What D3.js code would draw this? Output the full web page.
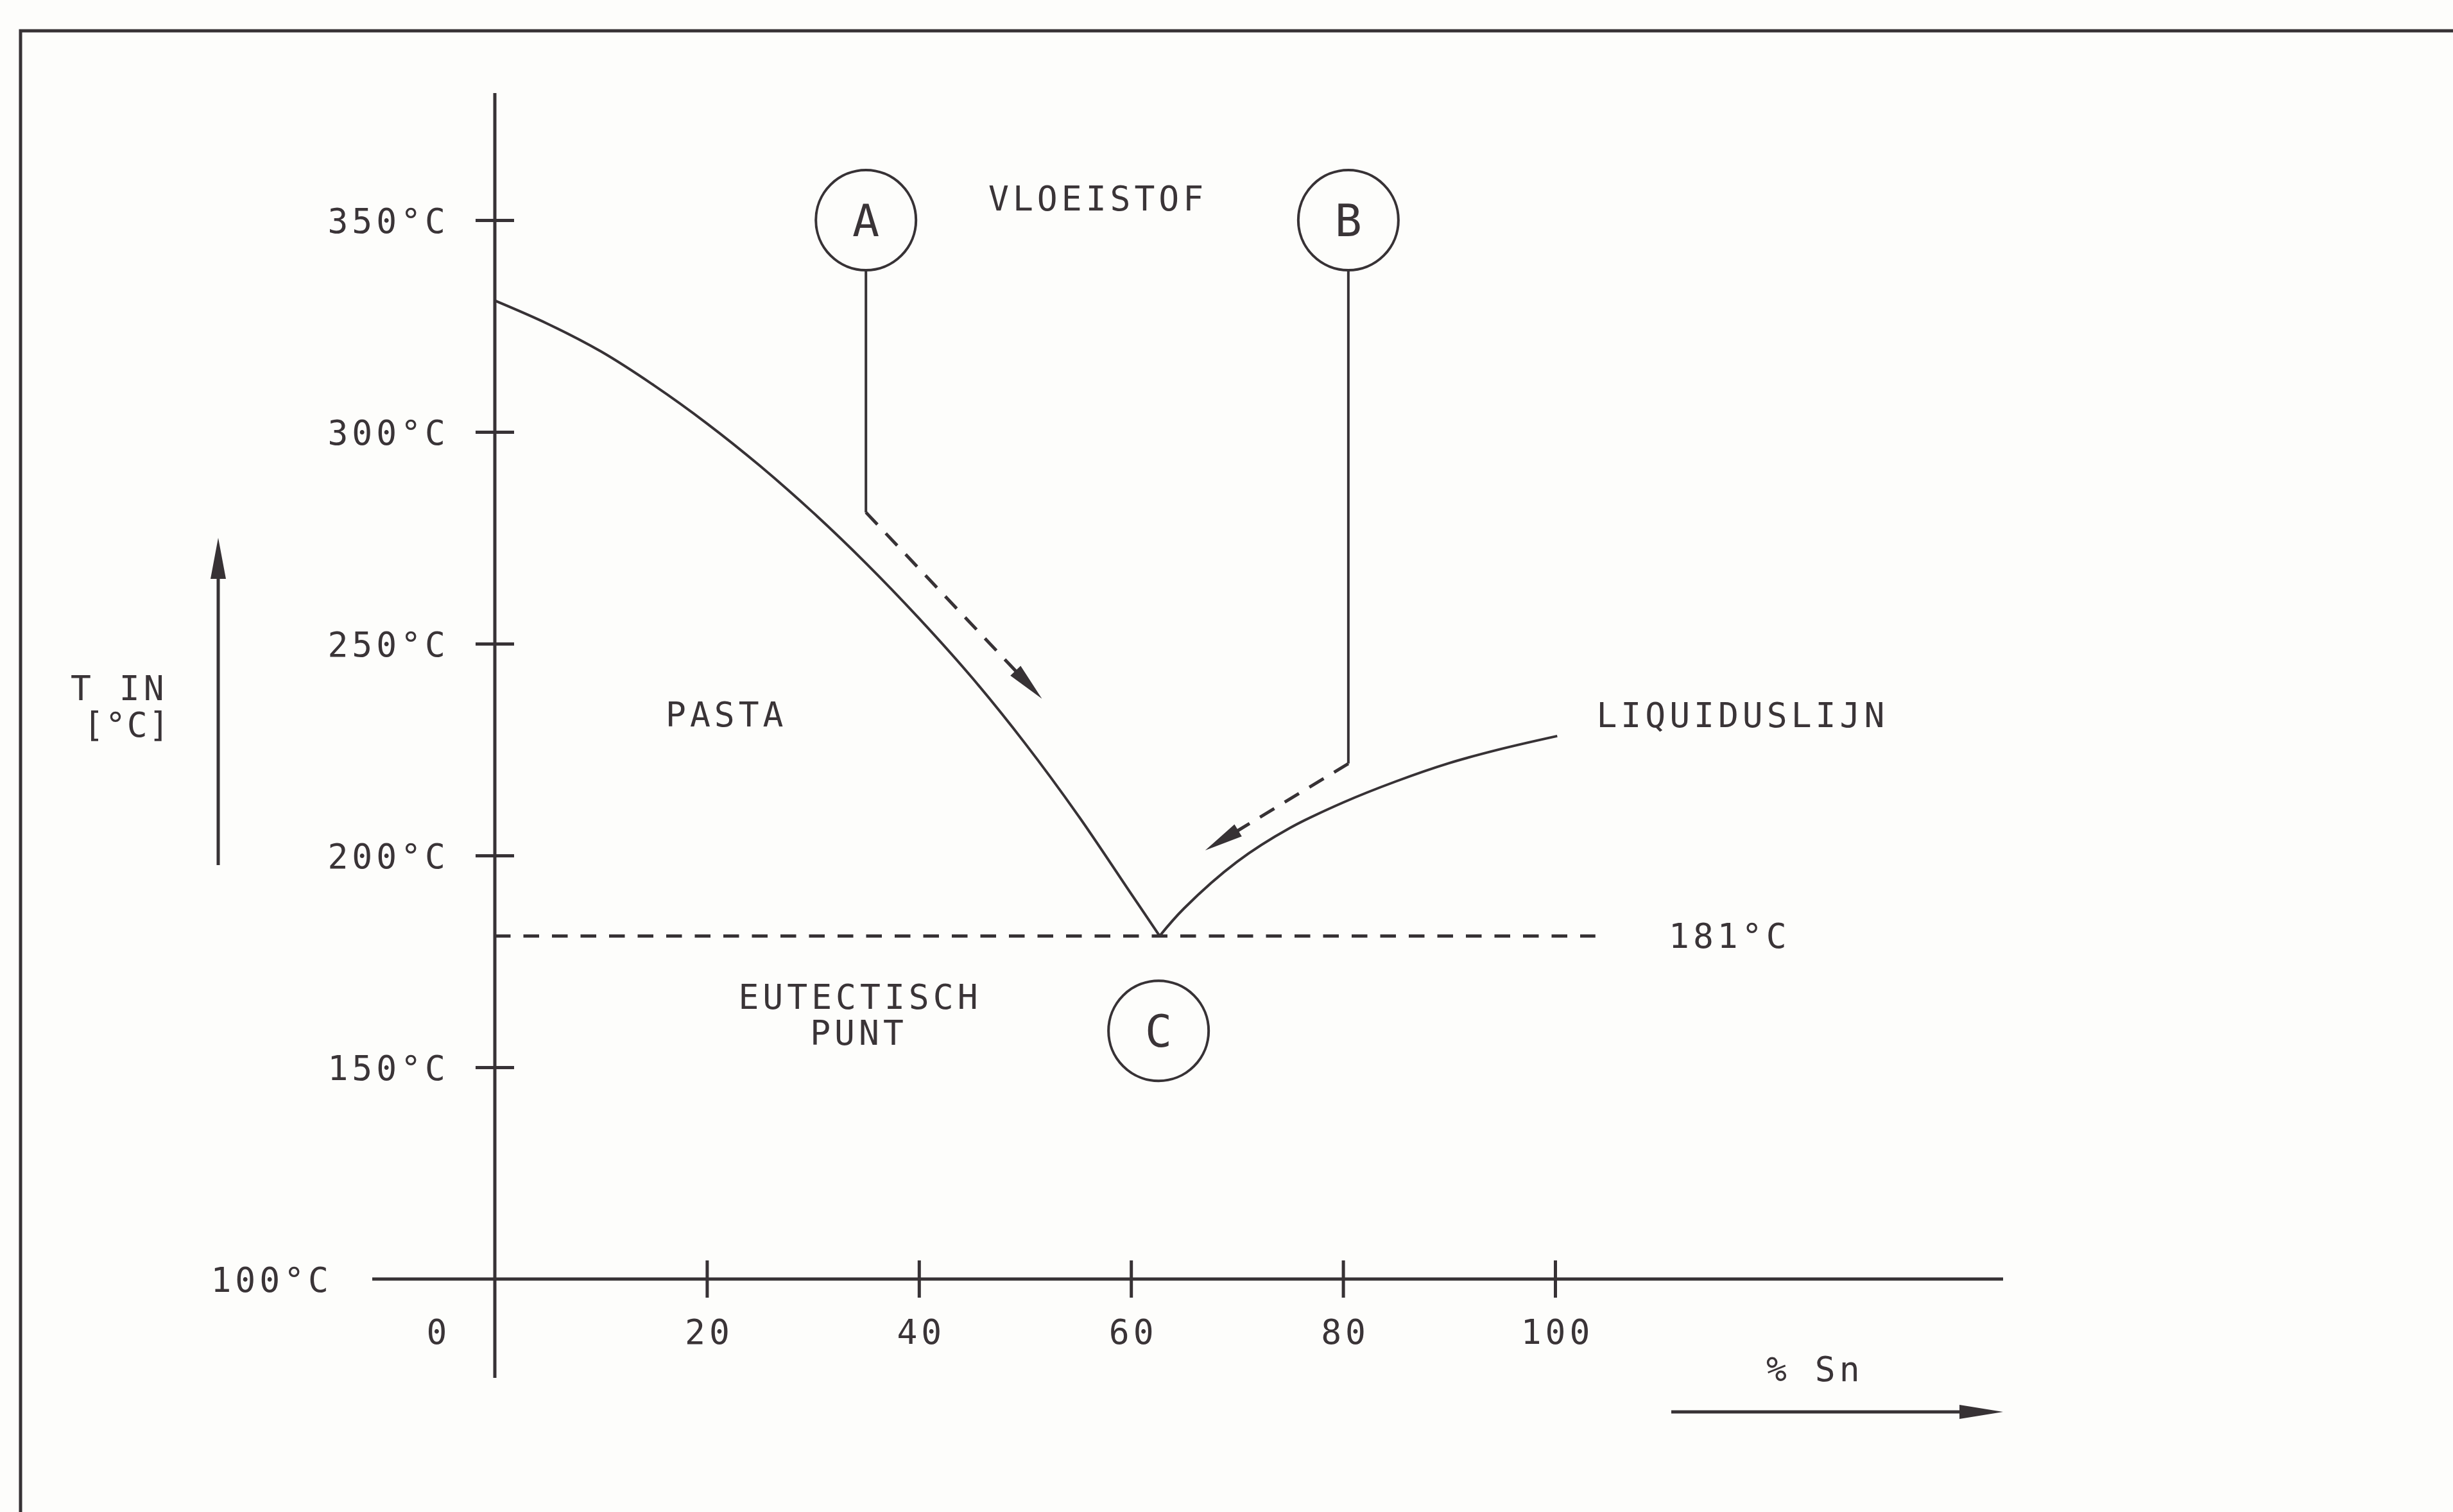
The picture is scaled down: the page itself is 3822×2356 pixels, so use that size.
<!DOCTYPE html>
<html>
<head>
<meta charset="utf-8">
<script src="https://cdn.jsdelivr.net/npm/d3@7"></script>
<style>
  html, body { margin: 0; padding: 0; background: #fdfdfb; }
  svg { display: block; }
  text {
    font-family: "DejaVu Sans Mono", "Liberation Mono", monospace;
    font-size: 53px;
    fill: #3a3437;
    letter-spacing: 6px;
  }
  text.marker-label { font-size: 70px; letter-spacing: 0; }
  text.unit { letter-spacing: 2px; }
</style>
</head>
<body>
<svg id="chart" width="3822" height="2356"></svg>
<script>
// Tin–lead (Sn/Pb) solder: liquidus line and eutectic point

// Axis ticks
const xTickValues = [0, 20, 40, 60, 80, 100];
const xTickLabels = ["0", "20", "40", "60", "80", "100"];
const yTickValues = [100, 150, 200, 250, 300, 350];
const yTickLabels = ["100°C", "150°C", "200°C", "250°C", "300°C", "350°C"];

// Liquidus, lead-rich branch: [% Sn, °C]
const liquidusPb = [
  [0, 331], [5, 325.5], [10, 319], [15, 311], [20, 302], [25, 292], [30, 281],
  [35, 269], [40, 256], [45, 242], [50, 226.5], [55, 209.5], [60, 191], [62.7, 181]
];
// Liquidus, tin-rich branch: [% Sn, °C]
const liquidusSn = [
  [62.7, 181], [65, 187.5], [70, 198.5], [75, 206.5], [80, 212.5],
  [85, 217.5], [90, 221.8], [95, 225.2], [100.2, 228.2]
];

// Eutectic temperature line: [% Sn start, % Sn end, °C]
const eutecticLine = [0, 103.8, 181];

// Cooling paths for alloys A and B: circle centre, bend point, arrow tip  [% Sn, °C]
const pathA = [[35, 350], [35, 281], [51.6, 237]];
const pathB = [[80.5, 350], [80.5, 221.7], [67, 201.2]];
// Marker for the eutectic point C
const markerC = [62.6, 158.6];

// Region and line labels: [% Sn, °C] of the label's left edge / mid height
const regionLabels = [
  { text: "VLOEISTOF", p: 46.55, t: 355.2 },
  { text: "PASTA", p: 16.1, t: 233.3 },
  { text: "LIQUIDUSLIJN", p: 103.9, t: 233.2 }
];

// ---------------------------------------------------------------
const ink = "#373235";
const svg = d3.select("#chart");

const x = d3.scaleLinear().domain([0, 100]).range([771, 2423]);
const y = d3.scaleLinear().domain([100, 350]).range([1993, 343]);

// Page frame (top and left edges)
svg.append("path")
  .attr("d", "M3822,48 L32,48 L32,2356")
  .attr("fill", "none").attr("stroke", ink).attr("stroke-width", 5);

// Axis lines
svg.append("line")
  .attr("x1", x(0)).attr("x2", x(0)).attr("y1", 145).attr("y2", 2147)
  .attr("stroke", ink).attr("stroke-width", 5);
svg.append("line")
  .attr("x1", 580).attr("x2", 3121).attr("y1", y(100)).attr("y2", y(100))
  .attr("stroke", ink).attr("stroke-width", 5);

// Y axis: ticks crossing the line on both sides
const yLeft = svg.append("g").attr("transform", `translate(${x(0)},0)`)
  .call(d3.axisLeft(y).tickValues(yTickValues).tickSize(30).tickPadding(31)
    .tickFormat((d, i) => yTickLabels[i]));
const yRight = svg.append("g").attr("transform", `translate(${x(0)},0)`)
  .call(d3.axisRight(y).tickValues(yTickValues.filter(v => v !== 100)).tickSize(30).tickFormat(""));

// X axis: ticks crossing the line on both sides
const xBottom = svg.append("g").attr("transform", `translate(0,${y(100)})`)
  .call(d3.axisBottom(x).tickValues(xTickValues).tickSize(29)
    .tickFormat((d, i) => xTickLabels[i]));
const xTop = svg.append("g").attr("transform", `translate(0,${y(100)})`)
  .call(d3.axisTop(x).tickValues(xTickValues.filter(v => v !== 0)).tickSize(29).tickFormat(""));

[yLeft, yRight, xBottom, xTop].forEach(g => {
  g.select(".domain").remove();
  g.attr("font-family", null).attr("font-size", null);
  g.selectAll(".tick line").attr("stroke", ink).attr("stroke-width", 5);
  g.selectAll(".tick text").attr("fill", ink);
});
// tick 0 and tick 100°C coincide with the axis lines themselves
yLeft.selectAll(".tick").filter(d => d === 100).select("line").remove();
xBottom.selectAll(".tick").filter(d => d === 0).select("line").remove();

yLeft.selectAll(".tick text")
  .attr("dy", null).attr("y", 19)
  .attr("x", d => d === 100 ? -253 : -71);
xBottom.selectAll(".tick text")
  .attr("dy", null).attr("y", 101)
  .attr("dx", d => d === 0 ? -88 : 3);

// Liquidus
const line = d3.line().x(d => x(d[0])).y(d => y(d[1])).curve(d3.curveCatmullRom.alpha(0.5));
[liquidusPb, liquidusSn].forEach(branch => {
  svg.append("path").datum(branch)
    .attr("d", line)
    .attr("fill", "none").attr("stroke", ink).attr("stroke-width", 4)
    .attr("stroke-linejoin", "round");
});

// Eutectic line at 181 °C
svg.append("line")
  .attr("x1", x(eutecticLine[0])).attr("x2", x(eutecticLine[1]))
  .attr("y1", y(eutecticLine[2])).attr("y2", y(eutecticLine[2]))
  .attr("stroke", ink).attr("stroke-width", 5).attr("stroke-dasharray", "24.5 20");
svg.append("text")
  .attr("x", 2600).attr("y", y(eutecticLine[2]) + 19)
  .text("181°C");

// Arrowhead helper: draws a slim filled triangle, returns the base point
function arrowHead(from, tip, len, hw) {
  const dx = tip[0] - from[0], dy = tip[1] - from[1];
  const L = Math.hypot(dx, dy), ux = dx / L, uy = dy / L;
  const bx = tip[0] - ux * len, by = tip[1] - uy * len;
  svg.append("polygon")
    .attr("points", [
      [tip[0], tip[1]],
      [bx - uy * hw, by + ux * hw],
      [bx + uy * hw, by - ux * hw]
    ].map(p => p.join(",")).join(" "))
    .attr("fill", ink);
  return [bx + ux * 2, by + uy * 2];
}

const R = 78;
function coolingPath(pts, label) {
  const c = [x(pts[0][0]), y(pts[0][1])];
  const bend = [x(pts[1][0]), y(pts[1][1])];
  const tip = [x(pts[2][0]), y(pts[2][1])];
  svg.append("circle").attr("cx", c[0]).attr("cy", c[1]).attr("r", R)
    .attr("fill", "none").attr("stroke", ink).attr("stroke-width", 4);
  svg.append("text").attr("class", "marker-label")
    .attr("x", c[0]).attr("y", c[1] + 25)
    .attr("text-anchor", "middle").text(label);
  svg.append("line")
    .attr("x1", c[0]).attr("y1", c[1] + R).attr("x2", bend[0]).attr("y2", bend[1])
    .attr("stroke", ink).attr("stroke-width", 4);
  const base = arrowHead(bend, tip, 60, 11);
  svg.append("line")
    .attr("x1", bend[0]).attr("y1", bend[1]).attr("x2", base[0]).attr("y2", base[1])
    .attr("stroke", ink).attr("stroke-width", 5).attr("stroke-dasharray", "26 19");
}
coolingPath(pathA, "A");
coolingPath(pathB, "B");

// Eutectic point marker C
svg.append("circle").attr("cx", x(markerC[0])).attr("cy", y(markerC[1])).attr("r", R)
  .attr("fill", "none").attr("stroke", ink).attr("stroke-width", 4);
svg.append("text").attr("class", "marker-label")
  .attr("x", x(markerC[0])).attr("y", y(markerC[1]) + 25)
  .attr("text-anchor", "middle").text("C");

svg.append("text").attr("x", 1340).attr("y", 1572).attr("text-anchor", "middle").text("EUTECTISCH");
svg.append("text").attr("x", 1338).attr("y", 1628).attr("text-anchor", "middle").text("PUNT");

// Region labels
regionLabels.forEach(l => {
  svg.append("text").attr("x", x(l.p)).attr("y", y(l.t) + 19).text(l.text);
});

// Axis titles with direction arrows
svg.append("text").attr("x", 110).attr("y", 1091).text("T IN");
svg.append("text").attr("class", "unit").attr("x", 130).attr("y", 1148).text("[°C]");
svg.append("line").attr("x1", 340).attr("y1", 1348).attr("x2", 340).attr("y2", 880)
  .attr("stroke", ink).attr("stroke-width", 5);
arrowHead([340, 1348], [340, 838], 64, 12);

svg.append("text").attr("x", 2752).attr("y", 2152).text("% Sn");
svg.append("line").attr("x1", 2604).attr("y1", 2200).attr("x2", 3070).attr("y2", 2200)
  .attr("stroke", ink).attr("stroke-width", 5);
arrowHead([2604, 2200], [3121, 2200], 68, 11);
</script>
</body>
</html>
